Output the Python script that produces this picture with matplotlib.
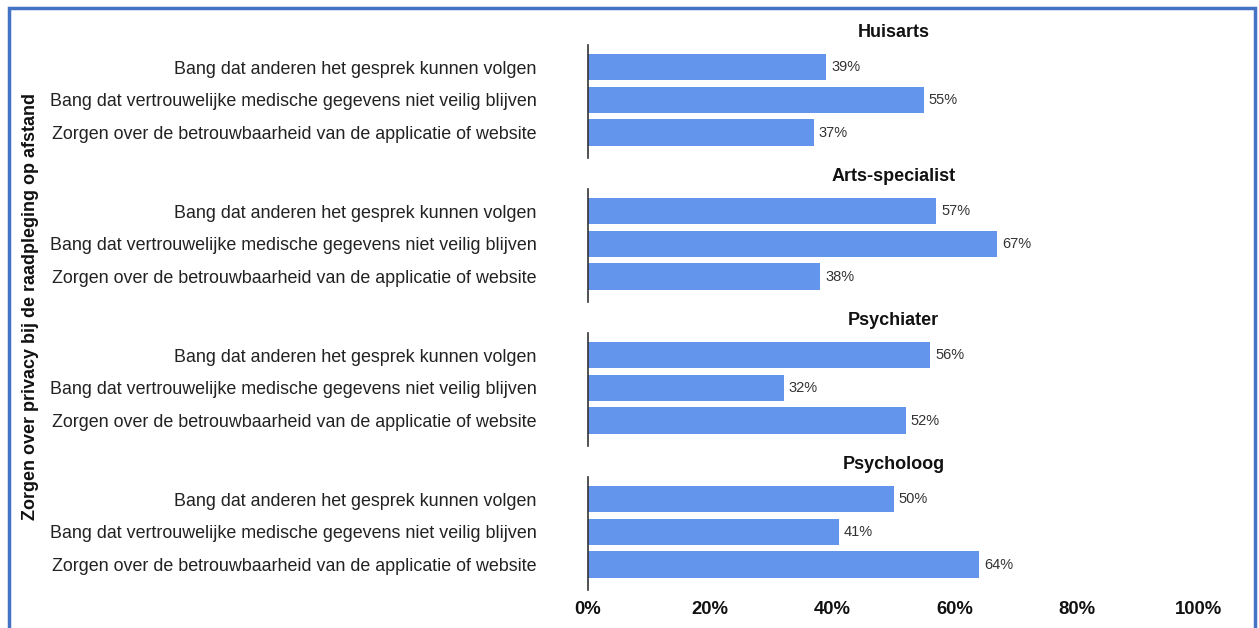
import matplotlib
matplotlib.use("Agg")
import matplotlib.pyplot as plt
from matplotlib.patches import Rectangle

plt.rcParams['font.family'] = ['Liberation Sans', 'DejaVu Sans']

panels = ["Huisarts", "Arts-specialist", "Psychiater", "Psycholoog"]
categories = [
    "Bang dat anderen het gesprek kunnen volgen",
    "Bang dat vertrouwelijke medische gegevens niet veilig blijven",
    "Zorgen over de betrouwbaarheid van de applicatie of website",
]
values = {
    "Huisarts": [39, 55, 37],
    "Arts-specialist": [57, 67, 38],
    "Psychiater": [56, 32, 52],
    "Psycholoog": [50, 41, 64],
}
xticks = [0, 20, 40, 60, 80, 100]
xticklabels = ["0%", "20%", "40%", "60%", "80%", "100%"]
ylabel = "Zorgen over privacy bij de raadpleging op afstand"

W, H = 1259, 628
fig = plt.figure(figsize=(W / 100, H / 100), dpi=100)

left_px, right_px = 588, 1199
bar_color = "#6495ED"

for i, name in enumerate(panels):
    top_px = 45 + 144 * i
    bot_px = 158 + 144 * i
    ax = fig.add_axes([left_px / W, 1 - bot_px / H, (right_px - left_px) / W, (bot_px - top_px) / H])
    vals = values[name]
    ypos = list(range(len(categories)))
    ax.barh(ypos, vals, height=0.8, color=bar_color, edgecolor="none")
    for y, v in zip(ypos, vals):
        ax.text(v + 0.8, y, f"{v}%", va="center", ha="left", fontsize=10.5, color="#333333")
    ax.set_xlim(0, 100)
    ax.set_ylim(2.78, -0.68)
    ax.set_yticks(ypos)
    ax.set_yticklabels(categories, fontsize=12.9, color="#222222")
    ax.tick_params(axis="y", length=0, pad=37)
    for s in ["top", "right", "bottom"]:
        ax.spines[s].set_visible(False)
    ax.spines["left"].set_color("#333333")
    ax.spines["left"].set_linewidth(1.2)
    ax.set_title(name, fontsize=13, fontweight="bold", pad=6, color="#111111")
    if i == len(panels) - 1:
        ax.set_xticks(xticks)
        ax.set_xticklabels(xticklabels, fontsize=13.3, fontweight="bold", color="#111111")
        ax.tick_params(axis="x", length=0, pad=8)
    else:
        ax.set_xticks([])

fig.text(31 / W, 1 - 306 / H, ylabel, rotation=90, ha="center", va="center",
         fontsize=13, fontweight="bold", color="#111111")

fig.add_artist(Rectangle((9 / W, -0.05), (1255 - 9) / W, 1 - 8 / H + 0.05,
                         transform=fig.transFigure, fill=False,
                         edgecolor="#4472C4", linewidth=2.5))

fig.savefig("out.png", dpi=100)
